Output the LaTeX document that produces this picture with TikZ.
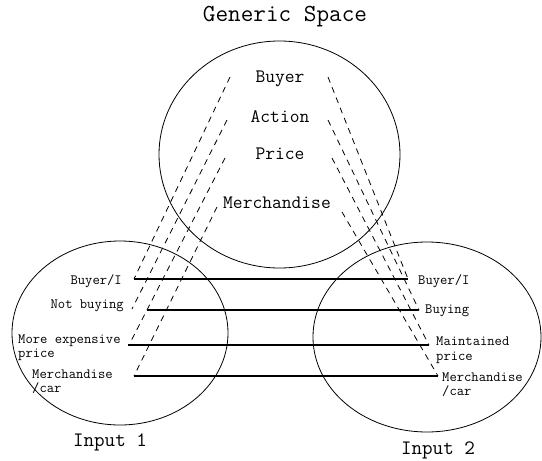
\documentclass[tikz,border=0pt]{standalone}
\begin{document}
\begin{tikzpicture}[x=1pt,y=-1pt,
  space/.style={draw, line width=0.8pt},
  lbl/.style={font=\ttfamily\fontsize{14.2}{14.5}\selectfont, inner sep=0pt, align=left},
  gen/.style={font=\ttfamily\fontsize{19}{21}\selectfont, inner sep=0pt},
  ttl/.style={font=\ttfamily\fontsize{20.5}{23}\selectfont, inner sep=0pt},
  big/.style={font=\ttfamily\fontsize{24.5}{27}\selectfont, inner sep=0pt},
  link/.style={line width=1.3pt},
  proj/.style={line width=0.8pt, dash pattern=on 6pt off 5pt}]
\useasboundingbox (0,0) rectangle (542,461);
% spaces
\draw[space] (279.5,154.5) ellipse [x radius=120.5, y radius=113.5];
\draw[space] (120,333) ellipse [x radius=108, y radius=92];
\draw[space] (427,337) ellipse [x radius=114, y radius=95];
% titles
\node[big] (tGen) at (285,17) {Generic Space};
\node[ttl] (tIn1) at (110,442) {Input 1};
\node[ttl] (tIn2) at (438,450) {Input 2};
% generic texts
\node[gen] (gBuyer) at (280,79) {Buyer};
\node[gen] (gAction) at (280,117) {Action};
\node[gen] (gPrice) at (280,154) {Price};
\node[gen] (gMerch) at (277,203) {Merchandise};
% input 1 labels
\node[lbl, anchor=east] (aBuyer) at (122,281) {Buyer/I};
\node[lbl, anchor=east] (aBuy) at (124,306) {Not buying};
\node[lbl, anchor=west] (aPrice) at (18,347.5) {More expensive\\price};
\node[lbl, anchor=west] (aMerch) at (32,381.5) {Merchandise\\/car};
% input 2 labels
\node[lbl, anchor=west] (bBuyer) at (418,281) {Buyer/I};
\node[lbl, anchor=west] (bBuy) at (425,311) {Buying};
\node[lbl, anchor=west] (bPrice) at (436,350) {Maintained\\price};
\node[lbl, anchor=west] (bMerch) at (442,384.5) {Merchandise\\/car};
% link end points
\coordinate (a1) at (134,279);
\coordinate (a2) at (147,310);
\coordinate (a3) at (128,345);
\coordinate (a4) at (134,376);
\coordinate (b1) at (408,279);
\coordinate (b2) at (419,310);
\coordinate (b3) at (429,345);
\coordinate (b4) at (438,376);
% projection end points
\coordinate (pa2) at (132,309);
\coordinate (pa3) at (130,343);
% generic start points
\coordinate (g1) at (230,77);
\coordinate (g2) at (227,120);
\coordinate (g3) at (225,158);
\coordinate (g4) at (217,207);
\coordinate (h1) at (328,77);
\coordinate (h2) at (328,120);
\coordinate (h3) at (332,158);
\coordinate (h4) at (342,212);
% cross-space links
\draw[link] (a1) -- (b1);
\draw[link] (a2) -- (b2);
\draw[link] (a3) -- (b3);
\draw[link] (a4) -- (b4);
% projections
\draw[proj] (g1) -- (a1);
\draw[proj] (g2) -- (pa2);
\draw[proj] (g3) -- (pa3);
\draw[proj] (g4) -- (a4);
\draw[proj] (h1) -- (b1);
\draw[proj] (h2) -- (b2);
\draw[proj] (h3) -- (b3);
\draw[proj] (h4) -- (b4);
\end{tikzpicture}
\end{document}
